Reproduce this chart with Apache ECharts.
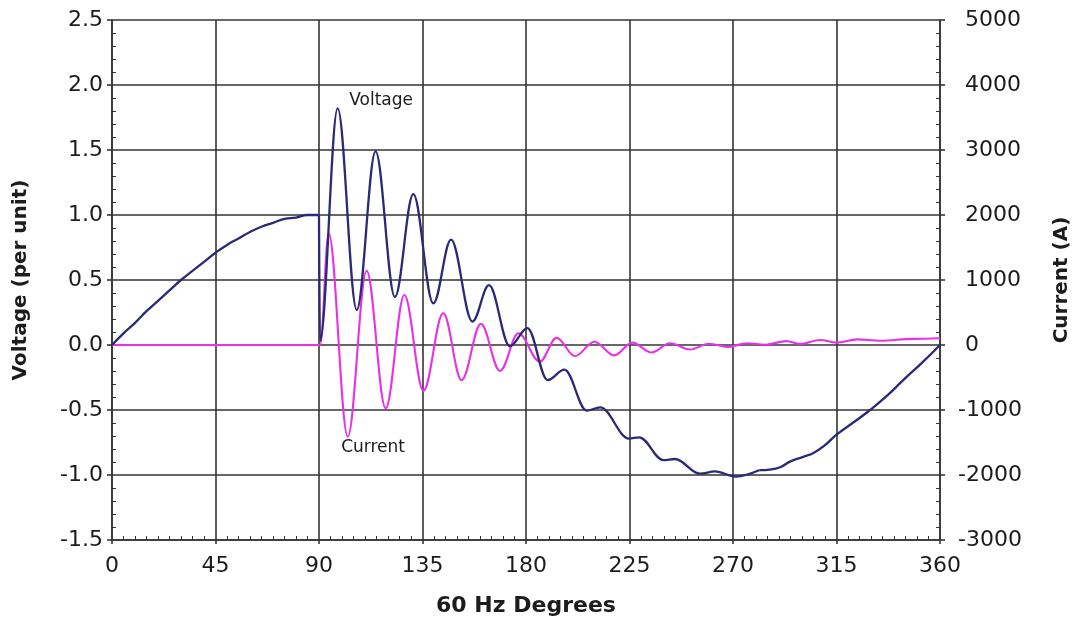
<!DOCTYPE html>
<html>
<head>
<meta charset="utf-8">
<title>Voltage and Current Transient</title>
<script src="https://cdn.jsdelivr.net/npm/echarts@6/dist/echarts.min.js"></script>
<style>
  html, body { margin: 0; padding: 0; background: #fff; }
  #chart { width: 1079px; height: 627px; }
</style>
</head>
<body>
<div id="chart"></div>
<script>
// Axis tick values
const degreeTicks = [0, 45, 90, 135, 180, 225, 270, 315, 360];
const voltageTicks = [-1.5, -1.0, -0.5, 0.0, 0.5, 1.0, 1.5, 2.0, 2.5];
const currentTicks = [-3000, -2000, -1000, 0, 1000, 2000, 3000, 4000, 5000];

// Voltage (per unit): steady rise of the sine wave up to the switching instant
const voltageRise = [
  [0, 0], [5, 0.09], [10, 0.17], [15, 0.26], [20, 0.34], [25, 0.42], [30, 0.5],
  [35, 0.57], [40, 0.64], [45, 0.71], [50, 0.77], [55, 0.82], [60, 0.87],
  [65, 0.91], [70, 0.94], [75, 0.97], [80, 0.98], [85, 1.0], [90, 1.0]
];

// Voltage (per unit): ringing after switching, given as its turning points
const voltageRinging = [
  [90, 1.0], [90.4, 0.03], [98.1, 1.82], [106.4, 0.27], [114.6, 1.49],
  [123, 0.37], [131, 1.16], [139.7, 0.32], [147.4, 0.81], [156.7, 0.18],
  [163.9, 0.46], [173, -0.01], [180.6, 0.13], [189.4, -0.27], [196.7, -0.19],
  [206.4, -0.505], [212.2, -0.48], [224.8, -0.72], [229.2, -0.71],
  [239.7, -0.885], [244.8, -0.877], [255.6, -0.99], [262.2, -0.972],
  [271.2, -1.012], [281.6, -0.962]
];

// Voltage (per unit): recovery back towards zero
const voltageRecovery = [
  [281.6, -0.962], [286, -0.958], [290.5, -0.94], [295, -0.895], [300.5, -0.86],
  [305, -0.83], [310, -0.77], [315, -0.69], [322, -0.6], [329.6, -0.5],
  [337, -0.39], [344, -0.27], [352, -0.14], [360, 0]
];

// Current (A): turning points of the inrush oscillation
const currentPoints = [
  [0, 0], [90.5, 0], [94.2, 1720], [102.5, -1410], [110.7, 1140], [119, -975],
  [127.1, 770], [135.4, -705], [144, 490], [152, -540], [160.4, 325],
  [168.7, -400], [176.7, 180], [186, -256], [193.3, 110], [201.3, -170],
  [209.7, 51], [218.3, -160], [226.3, 36], [234.6, -115], [242.6, 26],
  [251.3, -70], [259.6, 20], [267.6, -30], [276, 26], [284, 5], [293.3, 60],
  [299, 15], [308, 77], [315, 36], [324, 87], [334, 66], [348.4, 95], [360, 103]
];

const textColor = '#1c1c1c';
const gridColor = '#353535';
const voltageColor = '#2a2a78';
const currentColor = '#e633e6';
const tickFont = 'DejaVu Sans';

function first(a) { return a[0]; }
function last(a) { return a[a.length - 1]; }

function voltageSeries(points, smoothing, monotone) {
  return {
    name: 'Voltage',
    type: 'line',
    yAxisIndex: 0,
    data: points,
    showSymbol: false,
    symbol: 'none',
    smooth: smoothing,
    smoothMonotone: monotone,
    lineStyle: { color: voltageColor, width: 2.3 },
    z: 4
  };
}

const chart = echarts.init(document.getElementById('chart'), null, { renderer: 'canvas' });

const ringing = voltageSeries(voltageRinging, 0.36, 'x');
ringing.markPoint = {
  symbol: 'circle',
  symbolSize: 1,
  itemStyle: { color: 'rgba(0,0,0,0)' },
  label: {
    show: true, position: 'inside', formatter: 'Voltage',
    fontFamily: tickFont, fontSize: 17, color: textColor
  },
  data: [{ coord: [117, 1.877] }]
};

const option = {
  animation: false,
  backgroundColor: '#ffffff',
  grid: {
    left: 112, right: 139, top: 20, bottom: 87,
    containLabel: false,
    outerBoundsMode: 'none'
  },
  xAxis: {
    type: 'value',
    min: first(degreeTicks),
    max: last(degreeTicks),
    interval: degreeTicks[1] - degreeTicks[0],
    name: '60 Hz Degrees',
    nameLocation: 'middle',
    nameGap: 55,
    nameTextStyle: { fontFamily: tickFont, fontWeight: 'bold', fontSize: 22, color: textColor },
    axisLine: { show: true, onZero: false, lineStyle: { color: gridColor, width: 1.6 } },
    axisTick: { show: true, length: 4, lineStyle: { color: gridColor, width: 1.6 } },
    minorTick: { show: true, splitNumber: 9, length: -4, lineStyle: { color: gridColor, width: 1 } },
    axisLabel: { margin: 15, fontFamily: tickFont, fontSize: 22, color: textColor },
    splitLine: { show: true, lineStyle: { color: gridColor, width: 1.6 } }
  },
  yAxis: [
    {
      type: 'value',
      position: 'left',
      min: first(voltageTicks),
      max: last(voltageTicks),
      interval: voltageTicks[1] - voltageTicks[0],
      name: 'Voltage (per unit)',
      nameLocation: 'middle',
      nameRotate: 90,
      nameGap: 81,
      nameTextStyle: { fontFamily: tickFont, fontWeight: 'bold', fontSize: 20, color: textColor },
      axisLine: { show: true, onZero: false, lineStyle: { color: gridColor, width: 1.6 } },
      axisTick: { show: true, length: 5, lineStyle: { color: gridColor, width: 1.6 } },
      minorTick: { show: true, splitNumber: 5, length: -4, lineStyle: { color: gridColor, width: 1 } },
      axisLabel: {
        margin: 9, fontFamily: tickFont, fontSize: 22, color: textColor,
        formatter: v => v.toFixed(1)
      },
      splitLine: { show: true, lineStyle: { color: gridColor, width: 1.6 } }
    },
    {
      type: 'value',
      position: 'right',
      min: first(currentTicks),
      max: last(currentTicks),
      interval: currentTicks[1] - currentTicks[0],
      name: 'Current (A)',
      nameLocation: 'middle',
      nameRotate: 90,
      nameGap: 112,
      nameTextStyle: { fontFamily: tickFont, fontWeight: 'bold', fontSize: 20, color: textColor },
      axisLine: { show: true, onZero: false, lineStyle: { color: gridColor, width: 1.6 } },
      axisTick: { show: true, length: 5, lineStyle: { color: gridColor, width: 1.6 } },
      minorTick: { show: true, splitNumber: 5, length: -4, lineStyle: { color: gridColor, width: 1 } },
      axisLabel: {
        margin: 18, fontFamily: tickFont, fontSize: 22, color: textColor,
        align: 'left',
        formatter: v => (v < 0 ? String(v) : ' ' + v)
      },
      splitLine: { show: false }
    }
  ],
  series: [
    {
      name: 'Current',
      type: 'line',
      yAxisIndex: 1,
      data: currentPoints,
      showSymbol: false,
      symbol: 'none',
      smooth: 0.36,
      smoothMonotone: 'x',
      lineStyle: { color: currentColor, width: 2.1 },
      z: 3,
      markPoint: {
        symbol: 'circle',
        symbolSize: 1,
        itemStyle: { color: 'rgba(0,0,0,0)' },
        label: {
          show: true, position: 'inside', formatter: 'Current',
          fontFamily: tickFont, fontSize: 17, color: textColor
        },
        data: [{ coord: [113.5, -1585] }]
      }
    },
    voltageSeries(voltageRise, 0.5, null),
    ringing,
    voltageSeries(voltageRecovery, 0.5, null)
  ]
};

chart.setOption(option);
</script>
</body>
</html>
